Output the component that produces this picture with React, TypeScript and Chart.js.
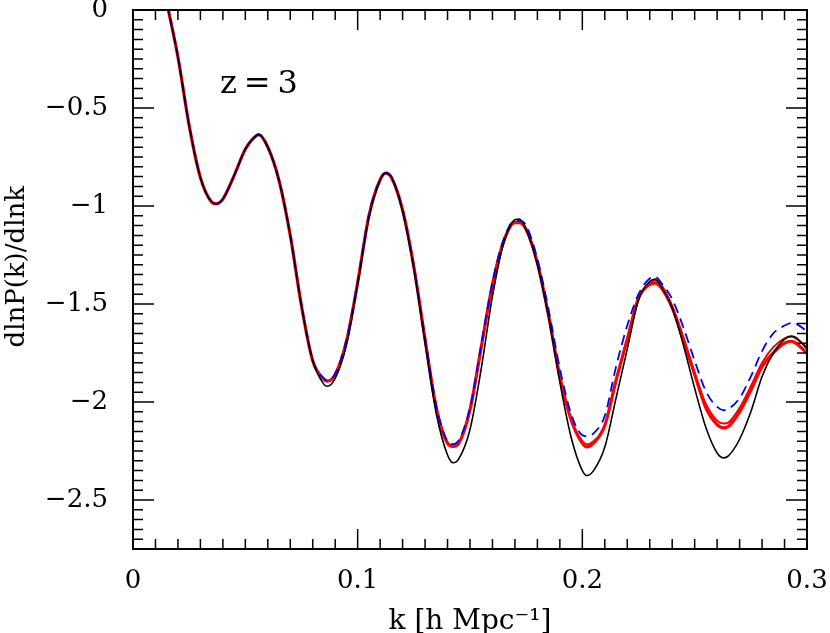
import React, { useEffect, useRef } from 'react';
import { Chart, registerables } from 'chart.js';

Chart.register(...registerables);

// wavenumber k [h/Mpc]
const K = [
  0.015, 0.02, 0.025, 0.03, 0.035, 0.037, 0.04, 0.045, 0.05, 0.055, 0.056, 0.06,
  0.065, 0.07, 0.075, 0.08, 0.085, 0.0865, 0.09, 0.095, 0.1, 0.105, 0.11, 0.1125,
  0.115, 0.12, 0.125, 0.13, 0.135, 0.14, 0.1425, 0.145, 0.15, 0.155, 0.16, 0.165,
  0.17, 0.172, 0.175, 0.18, 0.185, 0.19, 0.195, 0.2, 0.202, 0.205, 0.21, 0.215,
  0.22, 0.225, 0.23, 0.2325, 0.235, 0.24, 0.245, 0.25, 0.255, 0.26, 0.263, 0.265,
  0.27, 0.275, 0.28, 0.285, 0.29, 0.293, 0.295, 0.3,
];

// black thin solid
const BLACK = [
  0.04, -0.24, -0.59, -0.855, -0.98, -0.989, -0.965, -0.845, -0.71, -0.64, -0.636, -0.7,
  -0.87, -1.15, -1.51, -1.79, -1.91, -1.92, -1.88, -1.71, -1.4, -1.06, -0.87, -0.832,
  -0.85, -1.03, -1.32, -1.7, -2.06, -2.27, -2.31, -2.29, -2.14, -1.83, -1.46, -1.19,
  -1.07, -1.066, -1.12, -1.3, -1.57, -1.9, -2.18, -2.35, -2.375, -2.35, -2.23, -1.98,
  -1.73, -1.48, -1.385, -1.373, -1.41, -1.52, -1.71, -1.93, -2.13, -2.26, -2.285, -2.275,
  -2.19, -2.05, -1.87, -1.75, -1.68, -1.665, -1.67, -1.73,
];

// red thick solid
const RED = [
  0.04, -0.24, -0.59, -0.855, -0.98, -0.989, -0.965, -0.845, -0.71, -0.64, -0.636, -0.7,
  -0.87, -1.15, -1.51, -1.79, -1.885, -1.894, -1.86, -1.69, -1.39, -1.05, -0.865, -0.832,
  -0.855, -1.02, -1.31, -1.68, -2.03, -2.21, -2.226, -2.21, -2.04, -1.72, -1.4, -1.18,
  -1.085, -1.085, -1.12, -1.29, -1.56, -1.87, -2.09, -2.21, -2.229, -2.21, -2.12, -1.89,
  -1.68, -1.47, -1.4, -1.393, -1.415, -1.52, -1.685, -1.86, -2.03, -2.115, -2.132, -2.125,
  -2.05, -1.94, -1.82, -1.75, -1.7, -1.69, -1.7, -1.75,
];

// second red line
const RED2 = [
  0.04, -0.24, -0.59, -0.855, -0.98, -0.989, -0.965, -0.845, -0.71, -0.64, -0.636, -0.7,
  -0.87, -1.15, -1.51, -1.79, -1.885, -1.894, -1.86, -1.69, -1.39, -1.05, -0.865, -0.832,
  -0.855, -1.02, -1.31, -1.68, -2.03, -2.21, -2.226, -2.21, -2.04, -1.72, -1.4, -1.18,
  -1.085, -1.085, -1.12, -1.29, -1.56, -1.87, -2.09, -2.2, -2.215, -2.2, -2.12, -1.89,
  -1.68, -1.47, -1.39, -1.38, -1.4, -1.51, -1.67, -1.85, -2.01, -2.095, -2.11, -2.105,
  -2.03, -1.92, -1.8, -1.72, -1.675, -1.665, -1.675, -1.72,
];

// blue dashed
const BLUE = [
  0.04, -0.24, -0.59, -0.855, -0.98, -0.989, -0.965, -0.845, -0.71, -0.64, -0.636, -0.7,
  -0.87, -1.15, -1.51, -1.79, -1.88, -1.89, -1.855, -1.685, -1.385, -1.045, -0.865, -0.832,
  -0.855, -1.02, -1.31, -1.675, -2.02, -2.2, -2.215, -2.195, -2.03, -1.71, -1.39, -1.17,
  -1.075, -1.075, -1.1, -1.27, -1.53, -1.83, -2.06, -2.17, -2.175, -2.16, -2.07, -1.82,
  -1.61, -1.45, -1.37, -1.362, -1.39, -1.475, -1.62, -1.79, -1.945, -2.025, -2.042, -2.035,
  -1.98, -1.87, -1.74, -1.65, -1.61, -1.597, -1.6, -1.64,
];

const X_TICKS = [0, 0.1, 0.2, 0.3];
const Y_TICKS = [0, -0.5, -1, -1.5, -2, -2.5];
const X_MINOR_STEP = 0.01;
const Y_MINOR_STEP = 0.05;
const X_LABEL = 'k [h Mpc\u207B\u00B9]';
const Y_LABEL = 'dlnP(k)/dlnk';
const PANEL_LABEL = 'z=3';
const PANEL_POS = { x: 0.0387, y: -0.423 };
const Y_LABEL_CENTER = -1.31; // data value at which the rotated y title is centred

const FONT = "'DejaVu Serif', serif";

const fmt = (v: number) => {
  if (Math.abs(v) < 1e-9) return '0';
  return (v < 0 ? '\u2212' : '') + String(Math.abs(v));
};

const frameTicksPlugin = {
  id: 'frameTicks',
  afterDatasetsDraw(chart: any) {
    const { ctx, chartArea: a, scales } = chart;
    const xs = scales.x;
    const ys = scales.y;
    ctx.save();
    ctx.strokeStyle = '#000';
    ctx.lineWidth = 1.5;
    ctx.beginPath();
    const nx = Math.round((xs.max - xs.min) / X_MINOR_STEP);
    for (let i = 0; i <= nx; i++) {
      const v = xs.min + i * X_MINOR_STEP;
      const major = X_TICKS.some((t) => Math.abs(t - v) < 1e-6);
      const len = major ? 20 : 10;
      const px = xs.getPixelForValue(v);
      ctx.moveTo(px, a.bottom);
      ctx.lineTo(px, a.bottom - len);
      ctx.moveTo(px, a.top);
      ctx.lineTo(px, a.top + len);
    }
    const ny = Math.round((ys.max - ys.min) / Y_MINOR_STEP);
    for (let i = 0; i <= ny; i++) {
      const v = ys.min + i * Y_MINOR_STEP;
      const major = Y_TICKS.some((t) => Math.abs(t - v) < 1e-6);
      const len = major ? 21 : 10;
      const py = ys.getPixelForValue(v);
      ctx.moveTo(a.left, py);
      ctx.lineTo(a.left + len, py);
      ctx.moveTo(a.right, py);
      ctx.lineTo(a.right - len, py);
    }
    ctx.stroke();
    ctx.lineWidth = 2;
    ctx.strokeRect(a.left, a.top, a.right - a.left, a.bottom - a.top);

    ctx.fillStyle = '#000';
    ctx.font = `32px ${FONT}`;
    ctx.textAlign = 'left';
    ctx.textBaseline = 'alphabetic';
    try { (ctx as any).letterSpacing = '7px'; } catch (e) {}
    ctx.fillText(PANEL_LABEL, xs.getPixelForValue(PANEL_POS.x), ys.getPixelForValue(PANEL_POS.y));
    try { (ctx as any).letterSpacing = '0px'; } catch (e) {}

    // rotated y-axis title
    ctx.save();
    ctx.translate(17, ys.getPixelForValue(Y_LABEL_CENTER));
    ctx.rotate(-Math.PI / 2);
    ctx.font = `26px ${FONT}`;
    ctx.textAlign = 'center';
    ctx.textBaseline = 'middle';
    ctx.fillText(Y_LABEL, 0, 0);
    ctx.restore();
    ctx.restore();
  },
};

export default function App() {
  const ref = useRef<HTMLCanvasElement | null>(null);

  useEffect(() => {
    document.body.style.margin = '0';
    const canvas = ref.current;
    if (!canvas) return;
    const pts = (arr: number[]) => K.map((k, i) => ({ x: k, y: arr[i] }));
    const common = { pointRadius: 0, cubicInterpolationMode: 'monotone' as const };
    const chart = new Chart(canvas, {
      type: 'line',
      data: {
        datasets: [
          { data: pts(BLACK), borderColor: '#000000', borderWidth: 1.6, order: 0, ...common },
          { data: pts(BLUE), borderColor: '#0000ff', borderWidth: 1.8, borderDash: [10, 6], order: 1, ...common },
          { data: pts(RED2), borderColor: '#ff0000', borderWidth: 2, order: 2, ...common },
          { data: pts(RED), borderColor: '#ff0000', borderWidth: 3.2, order: 3, ...common },
        ],
      },
      options: {
        animation: false,
        responsive: false,
        devicePixelRatio: 1,
        layout: { padding: { top: 10, right: 23, left: 0, bottom: 0 } },
        plugins: { legend: { display: false }, tooltip: { enabled: false } },
        elements: { line: { fill: false } },
        scales: {
          x: {
            type: 'linear',
            min: 0,
            max: 0.3,
            grid: { display: false },
            border: { display: false },
            afterBuildTicks: (s: any) => { s.ticks = X_TICKS.map((v) => ({ value: v })); },
            afterFit: (s: any) => {
              s.height = 84;
              s.paddingLeft = 0;
              s.paddingRight = 0;
              s.paddingTop = 0;
              s.paddingBottom = 0;
            },
            ticks: {
              color: '#000',
              padding: 9,
              maxRotation: 0,
              autoSkip: false,
              font: { family: FONT, size: 26 },
              callback: (v: any) => fmt(Number(v)),
            },
            title: {
              display: true,
              text: X_LABEL,
              color: '#000',
              font: { family: FONT, size: 28, lineHeight: 1 },
              padding: { top: 0, bottom: -3 },
            },
          },
          y: {
            type: 'linear',
            min: -2.75,
            max: 0,
            grid: { display: false },
            border: { display: false },
            afterBuildTicks: (s: any) => { s.ticks = Y_TICKS.map((v) => ({ value: v })); },
            afterFit: (s: any) => {
              s.width = 133;
              s.paddingLeft = 0;
              s.paddingRight = 0;
              s.paddingTop = 0;
              s.paddingBottom = 0;
            },
            ticks: {
              color: '#000',
              padding: 17,
              autoSkip: false,
              font: { family: FONT, size: 26 },
              callback: (v: any) => fmt(Number(v)),
            },
            title: { display: false },
          },
        },
      },
      plugins: [frameTicksPlugin],
    });
    return () => chart.destroy();
  }, []);

  return (
    <div style={{ width: 830, height: 633 }}>
      <canvas ref={ref} width={830} height={633} style={{ display: 'block' }} />
    </div>
  );
}
